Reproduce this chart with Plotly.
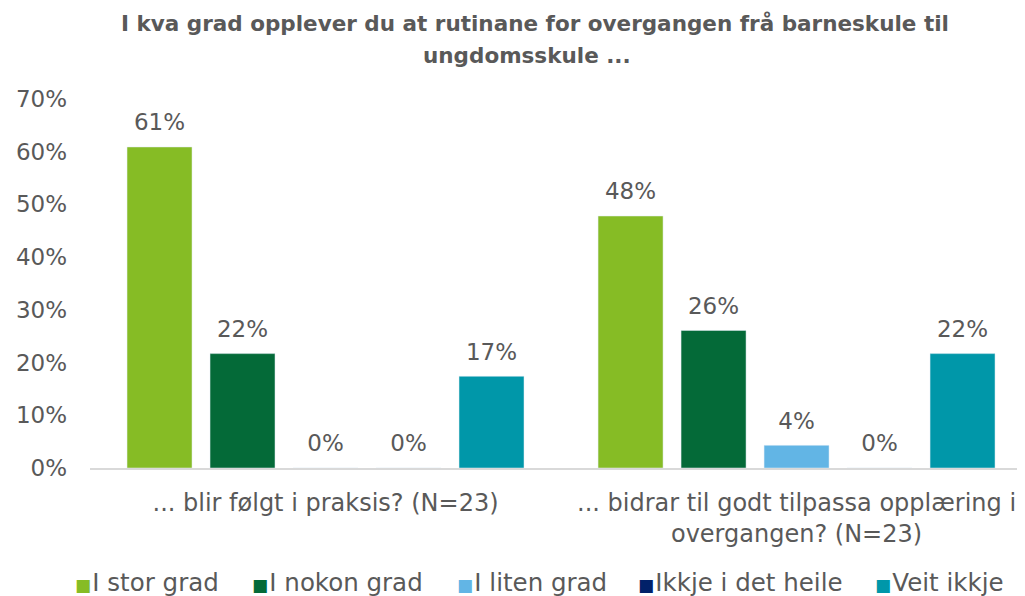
import plotly.graph_objects as go

categories = ["... blir følgt i praksis? (N=23)",
              "... bidrar til godt tilpassa opplæring i<br>overgangen? (N=23)"]
series_names = ["I stor grad", "I nokon grad", "I liten grad", "Ikkje i det heile", "Veit ikkje"]
stor_grad = [60.9, 47.8]
nokon_grad = [21.7, 26.1]
liten_grad = [0.0, 4.3]
ikkje_heile = [0.0, 0.0]
veit_ikkje = [17.4, 21.7]
colors = ["#86BC25", "#046A38", "#62B5E5", "#012169", "#0097A9"]
y_ticks = [0, 10, 20, 30, 40, 50, 60, 70]
y_tick_labels = ["0%", "10%", "20%", "30%", "40%", "50%", "60%", "70%"]
title_lines = ["I kva grad opplever du at rutinane for overgangen frå barneskule til",
               "ungdomsskule ..."]

FONT = "DejaVu Sans"
GREY = "#595959"
OFF = 8  # page body margin
W, H = 1025 - OFF, 596 - OFF
ML, MR, MT, MB = 90 - OFF, 0, 99 - OFF, 128
PW, PH = W - ML - MR, H - MT - MB
BARGAP = 0.119


def px_x(px):
    return (px - OFF - ML) / PW


def px_y(py):
    return (H - MB - (py - OFF)) / PH


fig = go.Figure()
all_vals = [stor_grad, nokon_grad, liten_grad, ikkje_heile, veit_ikkje]
for name, vals, col in zip(series_names, all_vals, colors):
    fig.add_trace(go.Bar(
        name=name, x=categories, y=vals, marker_color=col,
        showlegend=False, hoverinfo="skip",
    ))
for name, vals, col in zip(series_names, all_vals, colors):
    fig.add_trace(go.Scatter(
        name=name, x=categories, y=vals, mode="markers+text",
        marker=dict(size=16, opacity=0, color=col),
        text=["%.0f%%" % v for v in vals], textposition="top center",
        textfont=dict(family=FONT, size=23, color=GREY),
        cliponaxis=False, showlegend=False,
    ))

annotations = []
# title lines
for line, cx, cy in zip(title_lines, [535, 527], [24, 56]):
    annotations.append(dict(text="<b>" + line + "</b>", xref="paper", yref="paper",
                            x=px_x(cx), y=px_y(cy), xanchor="center", yanchor="middle",
                            showarrow=False, font=dict(family=FONT, size=21.5, color=GREY)))
# legend entries
legend_x = [75, 252, 457, 638, 875]
for name, col, lx in zip(series_names, colors, legend_x):
    annotations.append(dict(
        text="<span style='color:%s;font-size:17px'>■</span><span style='font-size:4px'> </span>%s" % (col, name),
        xref="paper", yref="paper", x=px_x(lx - 2), y=px_y(582),
        xanchor="left", yanchor="middle", showarrow=False,
        font=dict(family=FONT, size=24.5, color=GREY)))

fig.update_layout(
    width=W, height=H,
    paper_bgcolor="white", plot_bgcolor="white",
    barmode="group", bargap=BARGAP, bargroupgap=0.217,
    scattermode="group", scattergap=BARGAP,
    margin=dict(l=ML, r=MR, t=MT, b=MB, autoexpand=False),
    font=dict(family=FONT, color=GREY),
    showlegend=False,
    annotations=annotations,
    xaxis=dict(showline=True, linecolor="#D9D9D9", linewidth=2, automargin=False,
               tickfont=dict(family=FONT, size=24, color=GREY),
               ticklabelstandoff=12, range=[-0.5, 1.485]),
    yaxis=dict(range=[0, 70], tickvals=y_ticks, ticktext=y_tick_labels,
               showgrid=False, zeroline=False, showline=False, automargin=False,
               tickfont=dict(family=FONT, size=23, color=GREY), ticklabelstandoff=22),
)

fig.write_html("out.html")
